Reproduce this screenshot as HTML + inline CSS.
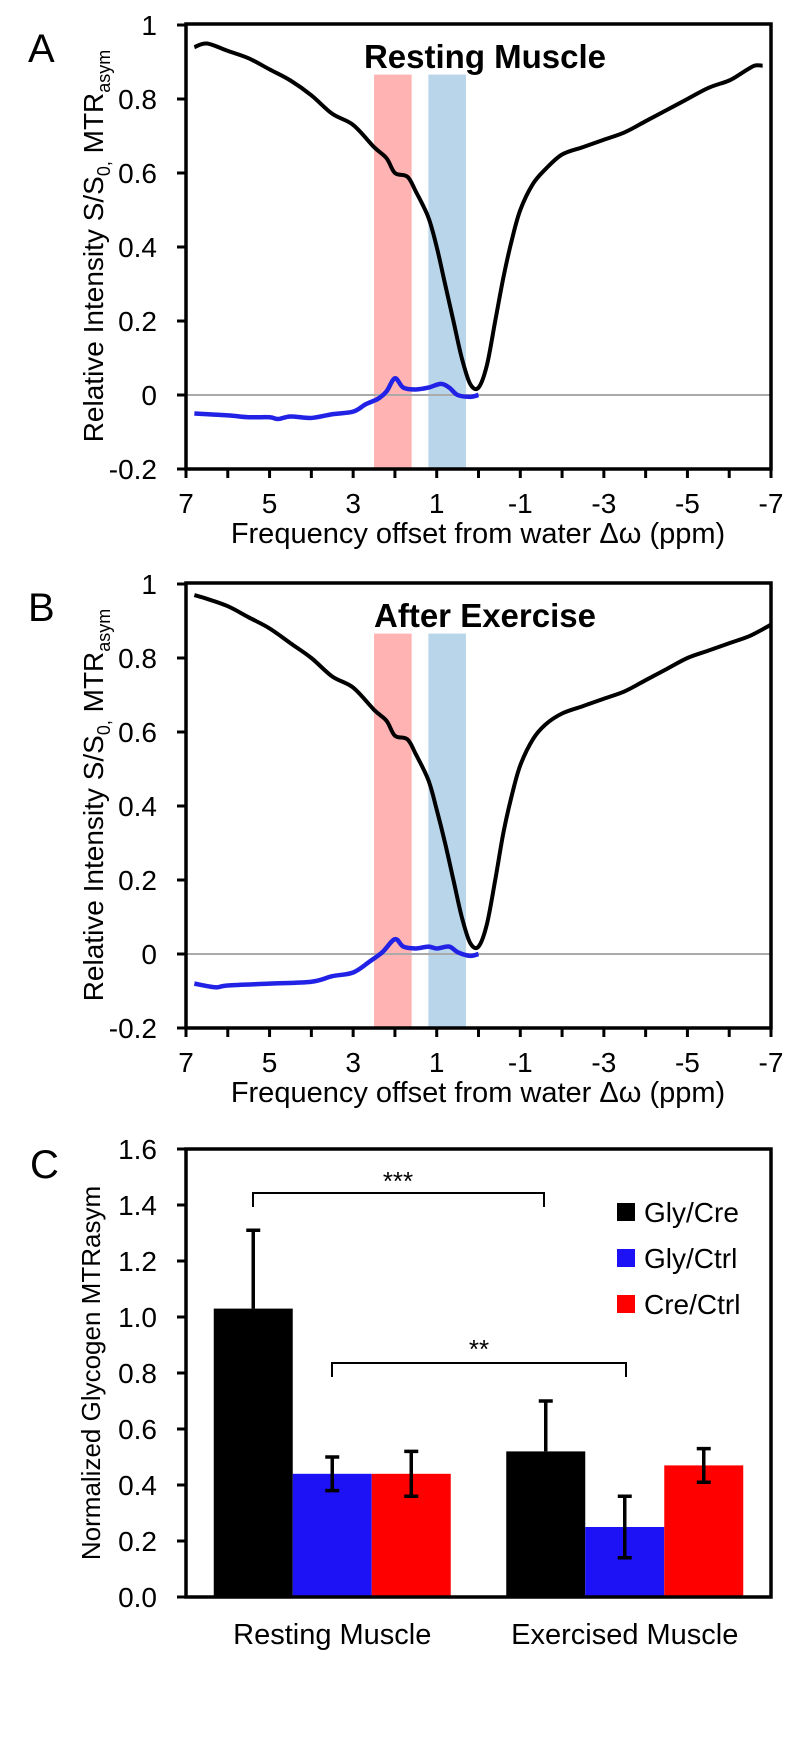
<!DOCTYPE html>
<html><head><meta charset="utf-8"><style>
html,body{margin:0;padding:0;background:#fff;}
svg{display:block;font-family:"Liberation Sans",sans-serif;}
</style></head><body>
<svg id="fig" width="796" height="1740" viewBox="0 0 796 1740" xmlns="http://www.w3.org/2000/svg"></svg>
<script>
// Panel A/B data (ppm, value)
const ppmA = [6.8,6.5,6,5.5,5,4.5,4,3.5,3,2.5,2.2,2,1.7,1.5,1.2,1,0.8,0.6,0.4,0.2,0,-0.2,-0.4,-0.6,-0.8,-1,-1.3,-1.6,-2,-2.5,-3,-3.5,-4,-4.5,-5,-5.5,-6,-6.3,-6.6,-6.8];
const zA = [0.94,0.95,0.93,0.91,0.88,0.85,0.81,0.76,0.73,0.67,0.64,0.60,0.59,0.55,0.48,0.40,0.30,0.20,0.10,0.03,0.02,0.08,0.20,0.32,0.42,0.50,0.57,0.61,0.65,0.67,0.69,0.71,0.74,0.77,0.80,0.83,0.85,0.87,0.89,0.89];
const ppmAsymA = [6.8,6,5.5,5,4.8,4.5,4,3.5,3,2.7,2.4,2.2,2.0,1.8,1.5,1.2,0.9,0.7,0.5,0.2,0];
const asymA = [-0.05,-0.055,-0.06,-0.06,-0.065,-0.058,-0.062,-0.052,-0.045,-0.025,-0.01,0.01,0.045,0.02,0.015,0.02,0.03,0.02,0.0,-0.005,0.0];
const ppmB = [6.8,6.5,6,5.5,5,4.5,4,3.5,3,2.5,2.2,2,1.7,1.5,1.2,1,0.8,0.6,0.4,0.2,0,-0.2,-0.4,-0.6,-0.8,-1,-1.3,-1.6,-2,-2.5,-3,-3.5,-4,-4.5,-5,-5.5,-6,-6.5,-7];
const zB = [0.97,0.96,0.94,0.91,0.88,0.84,0.80,0.75,0.72,0.66,0.63,0.59,0.58,0.54,0.47,0.39,0.30,0.20,0.10,0.03,0.02,0.08,0.20,0.33,0.43,0.51,0.58,0.62,0.65,0.67,0.69,0.71,0.74,0.77,0.80,0.82,0.84,0.86,0.89];
const ppmAsymB = [6.8,6.3,6,5,4,3.5,3,2.6,2.3,2.0,1.8,1.5,1.2,1,0.7,0.5,0.2,0];
const asymB = [-0.08,-0.09,-0.085,-0.08,-0.075,-0.06,-0.05,-0.02,0.005,0.04,0.02,0.015,0.02,0.015,0.02,0.005,-0.005,0.0];
const xTickLabels = ["7","5","3","1","-1","-3","-5","-7"];
const yTicksAB = [1,0.8,0.6,0.4,0.2,0,-0.2];
const bands = [[2.5,1.6,"#ffb3b3"],[1.2,0.3,"#b8d5ea"]];
// Panel C data
const groups = ["Resting Muscle","Exercised Muscle"];
const seriesNames = ["Gly/Cre","Gly/Ctrl","Cre/Ctrl"];
const seriesColors = ["#000000","#1d12f5","#ff0000"];
const barVals = [[1.03,0.52],[0.44,0.25],[0.44,0.47]];
const barErr = [[0.28,0.18],[0.06,0.11],[0.08,0.06]];
const yTicksC = ["0.0","0.2","0.4","0.6","0.8","1.0","1.2","1.4","1.6"];

const NS="http://www.w3.org/2000/svg";
const svg=document.getElementById('fig');
function el(tag,attrs,parent){const e=document.createElementNS(NS,tag);for(const k in attrs)e.setAttribute(k,attrs[k]);(parent||svg).appendChild(e);return e;}
function smooth(pts){let d="M"+pts[0][0]+","+pts[0][1];for(let i=0;i<pts.length-1;i++){const p0=pts[i-1]||pts[i],p1=pts[i],p2=pts[i+1],p3=pts[i+2]||p2;const c1=[p1[0]+(p2[0]-p0[0])/6,p1[1]+(p2[1]-p0[1])/6],c2=[p2[0]-(p3[0]-p1[0])/6,p2[1]-(p3[1]-p1[1])/6];d+=` C${c1[0]},${c1[1]} ${c2[0]},${c2[1]} ${p2[0]},${p2[1]}`;}return d;}

function spectrum(off,letter,title,ppm,z,ppmAs,as,key){
  const L=186,R=771,T=24+off,B=469+off;
  const x=p=>L+(7-p)*(R-L)/14;
  const y=v=>395+off-370*v;
  const g=el('g',{});
  
  
  const lt=el('text',{x:28,y:62+off,'font-size':40},g);lt.textContent=letter;
  
  bands.forEach((b,i)=>{const r=el('rect',{x:x(b[0]),y:y(0.866),width:x(b[1])-x(b[0]),height:B-y(0.866),fill:b[2]},g);
    });
  const zl=el('line',{x1:L,x2:R,y1:y(0),y2:y(0),stroke:'#aaaaaa','stroke-width':2},g);
  
  const tt=el('text',{x:485,y:68+off,'font-size':33,'font-weight':'bold','text-anchor':'middle'},g);tt.textContent=title;
  
  const zp=el('path',{d:smooth(ppm.map((p,i)=>[x(p),y(z[i])])),fill:'none',stroke:'#000','stroke-width':4,'stroke-linejoin':'round'},g);
  
  const ap=el('path',{d:smooth(ppmAs.map((p,i)=>[x(p),y(as[i])])),fill:'none',stroke:'#2222e6','stroke-width':4.5,'stroke-linejoin':'round'},g);
  
  el('rect',{x:L,y:T,width:R-L,height:B-T,fill:'none',stroke:'#000','stroke-width':3.5},g);
  yTicksAB.forEach(v=>{el('line',{x1:L-9,x2:L,y1:y(v),y2:y(v),stroke:'#000','stroke-width':3},g);
    const t=el('text',{x:157,y:y(v)+10,'font-size':28,'text-anchor':'end'},g);t.textContent=String(v);
    });
  for(let p=7;p>=-7;p--){el('line',{x1:x(p),x2:x(p),y1:B,y2:B+9,stroke:'#000','stroke-width':3},g);}
  xTickLabels.forEach(s=>{const t=el('text',{x:x(+s),y:B+44,'font-size':28,'text-anchor':'middle'},g);t.textContent=s;
    });
  const xl=el('text',{x:478,y:B+74,'font-size':29,'text-anchor':'middle'},g);xl.textContent='Frequency offset from water Δω (ppm)';
  
  const yl=el('text',{transform:`translate(103,${246+off}) rotate(-90)`,'font-size':28,'text-anchor':'middle'},g);
  yl.innerHTML='Relative Intensity S/S<tspan font-size="18" dy="7">0,</tspan><tspan dy="-7"> MTR</tspan><tspan font-size="18" dy="7">asym</tspan>';
  
}
spectrum(0,'A','Resting Muscle',ppmA,zA,ppmAsymA,asymA,'a');
spectrum(559,'B','After Exercise',ppmB,zB,ppmAsymB,asymB,'b');

// Panel C
(function(){
  const L=186,R=771,T=1149,B=1597;
  const y=v=>B-280*v;
  const gw=(R-L)/2,bw=79;
  const g=el('g',{});
  
  const lt=el('text',{x:30,y:1178,'font-size':40},g);lt.textContent='C';
  
  groups.forEach((gn,gi)=>{
    const cx=L+gw*(gi+0.5);
    seriesNames.forEach((sn,si)=>{
      const bx=cx-1.5*bw+si*bw,v=barVals[si][gi],e=barErr[si][gi];
      const r=el('rect',{x:bx,y:y(v),width:bw,height:B-y(v),fill:seriesColors[si]},g);
      
      
      const mx=bx+bw/2;
      const eb=el('path',{d:`M${mx},${y(v-(si===0?0:e))} V${y(v+e)} M${mx-7},${y(v+e)} H${mx+7}`+(si===0?'':` M${mx-7},${y(v-e)} H${mx+7}`),stroke:'#000','stroke-width':3.5,fill:'none'},g);
      
    });
    const t=el('text',{x:cx,y:1644,'font-size':29,'text-anchor':'middle'},g);t.textContent=gn;
    
  });
  el('rect',{x:L,y:T,width:R-L,height:B-T,fill:'none',stroke:'#000','stroke-width':3.5},g);
  yTicksC.forEach(s=>{const v=+s;el('line',{x1:L-9,x2:L,y1:y(v),y2:y(v),stroke:'#000','stroke-width':3},g);
    const t=el('text',{x:157,y:y(v)+10,'font-size':28,'text-anchor':'end'},g);t.textContent=s;
    });
  const yl=el('text',{transform:'translate(100,1373) rotate(-90)','font-size':26,'text-anchor':'middle'},g);yl.textContent='Normalized Glycogen MTRasym';
  
  const b1=el('path',{d:'M253,1207 V1193 H544 V1207',fill:'none',stroke:'#000','stroke-width':2},g);
  
  const s1=el('text',{x:398,y:1190,'font-size':26,'text-anchor':'middle'},g);s1.textContent='***';
  
  const b2=el('path',{d:'M332,1377 V1363 H626 V1377',fill:'none',stroke:'#000','stroke-width':2},g);
  
  const s2=el('text',{x:479,y:1358,'font-size':26,'text-anchor':'middle'},g);s2.textContent='**';
  
  seriesNames.forEach((sn,si)=>{const ly=1212+si*46;
    const r=el('rect',{x:617,y:ly-9,width:18,height:18,fill:seriesColors[si]},g);
    
    const t=el('text',{x:644,y:ly+10,'font-size':28},g);t.textContent=sn;
    });
})();
</script>
</body></html>
